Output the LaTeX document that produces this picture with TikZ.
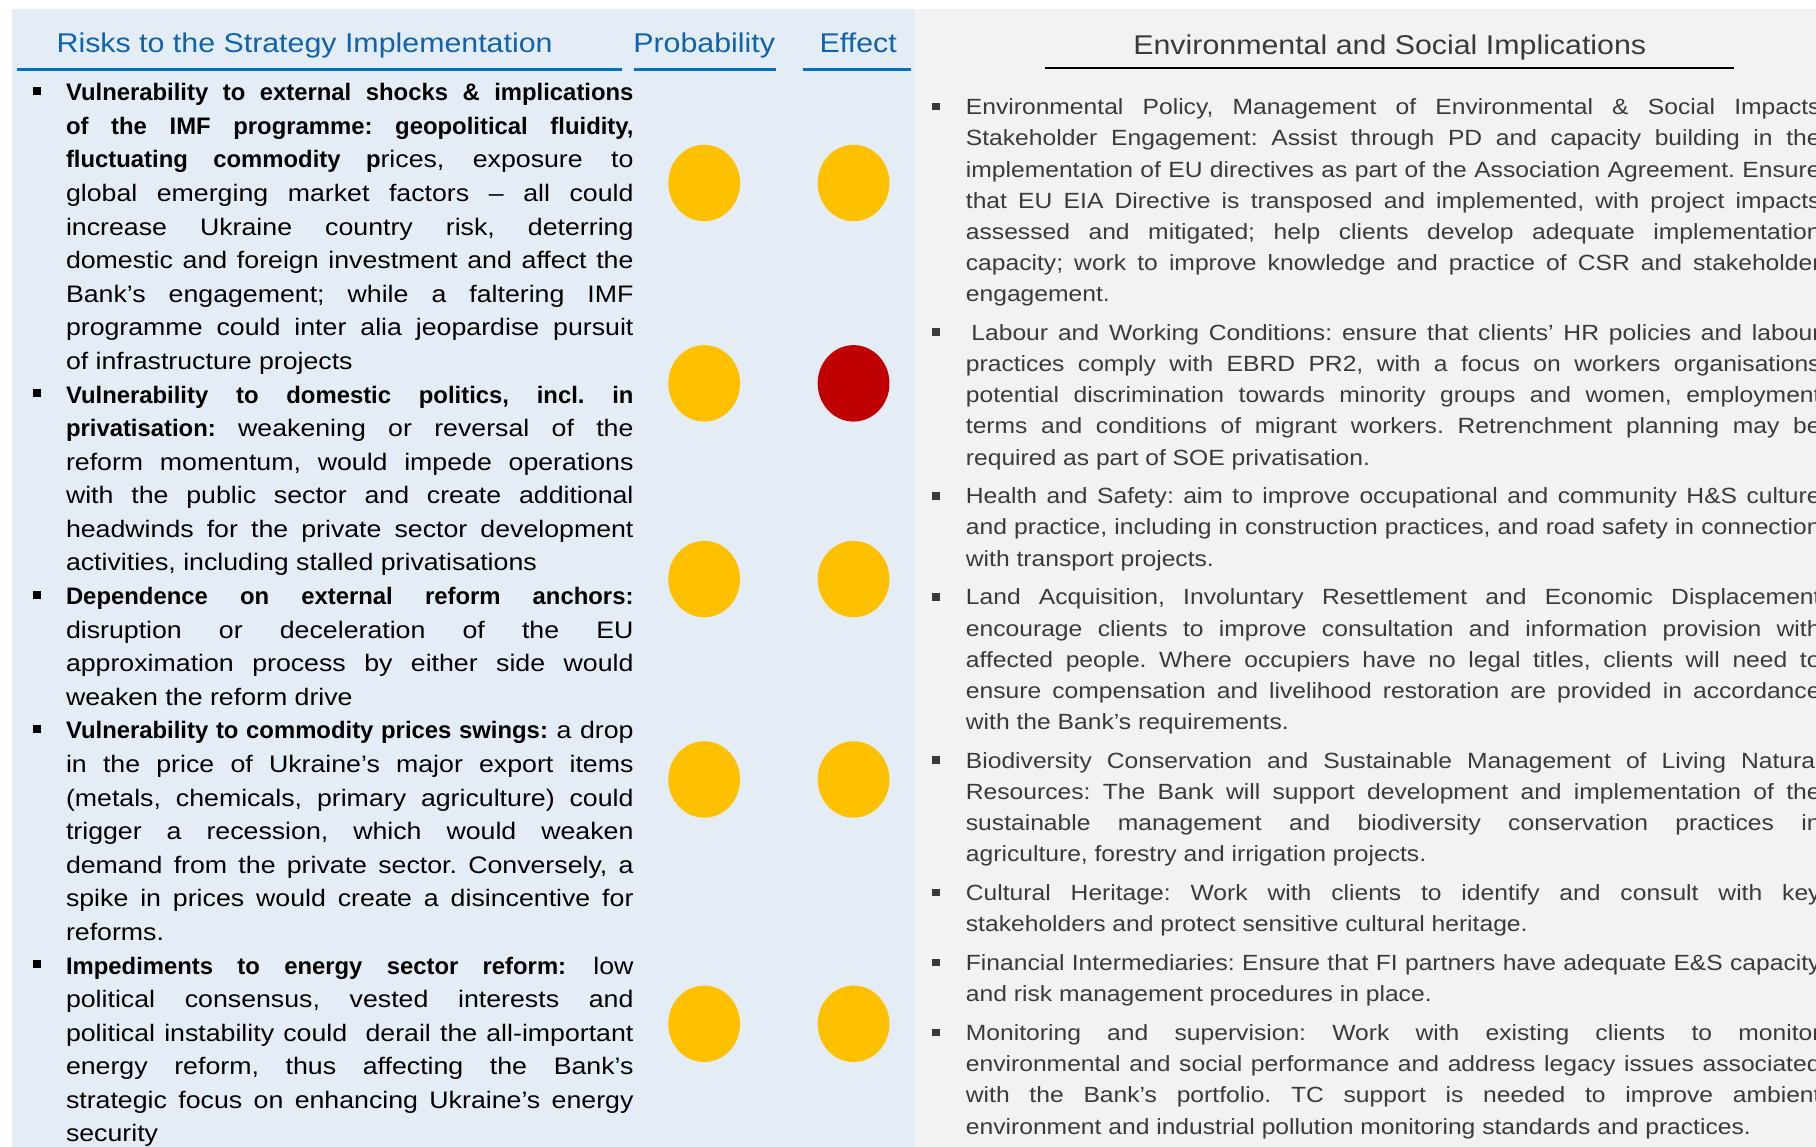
\documentclass[tikz,border=0pt]{standalone}
\usepackage{fontspec}
\setmainfont{Liberation Sans}[UprightFeatures={FakeStretch=1.12}]
\usetikzlibrary{positioning,calc,shapes.geometric}
\definecolor{leftbg}{HTML}{E4ECF6}
\definecolor{rightbg}{HTML}{F2F2F2}
\definecolor{hdrblue}{HTML}{0F62AE}
\definecolor{lineblue}{HTML}{0070C0}
\definecolor{darktext}{HTML}{3A3A3A}
\definecolor{amber}{HTML}{FFC000}
\definecolor{crimson}{HTML}{C00000}

\begin{document}
\begin{tikzpicture}[
  x=0.5pt,y=-0.5pt, % one unit is one pixel of the layout, y runs down
  hdr/.style={anchor=base,inner sep=0pt,font=\fontsize{11.7}{14}\selectfont,text=hdrblue}, % column titles
  esihdr/.style={hdr,text=darktext}, % title of the right panel
  riskitem/.style={anchor=north west,inner sep=0pt,outer sep=0pt,text width=245pt,align=justify,
    font=\fontsize{10.3}{14.5}\selectfont}, % risk paragraphs
  esiitem/.style={anchor=north west,inner sep=0pt,outer sep=0pt,text width=369pt,align=justify,
    text=darktext,font=\fontsize{9.5}{13.45}\selectfont}, % E&S paragraphs
  bul/.style={rectangle,fill=black,inner sep=0pt,minimum size=3.5pt}, % square bullets
  esibul/.style={bul,fill=darktext,minimum size=3.3pt},
  dot/.style={ellipse,fill=amber,inner sep=0pt,minimum width=31pt,minimum height=33pt}, % rating dots
  reddot/.style={dot,fill=crimson}
  ]
  \tolerance=10000 \hbadness=10000 \frenchspacing

  % panels
  \useasboundingbox (0,0) rectangle (1568,990);
  \fill[leftbg] (10,8) rectangle (790,990);
  \fill[rightbg] (790,8) rectangle (1568,990);

  % titles
  \node[hdr] (risks) at (263,45) {Risks to the Strategy Implementation};
  \node[hdr] (prob) at (608,45) {Probability};
  \node[hdr] (eff) at (741,45) {Effect};
  \node[esihdr] (esi) at (1200,47) {Environmental and Social Implications};
  \draw[lineblue,line width=1.3pt] (15,60) -- (537,60);
  \draw[lineblue,line width=1.3pt] (547,60) -- (670,60);
  \draw[lineblue,line width=1.3pt] (693,60) -- (787,60);
  \draw[black,line width=0.9pt] (902,59) -- (1497,59);

  % risks
  \node[riskitem] (r1) at (57,66.7) {\strut\textbf{Vulnerability to external shocks \& implications\linebreak of the IMF programme: geopolitical fluidity,\linebreak fluctuating commodity p}rices, exposure to\linebreak global emerging market factors – all could\linebreak increase Ukraine country risk, deterring\linebreak domestic and foreign investment and affect the\linebreak Bank’s engagement; while a faltering IMF\linebreak programme could inter alia jeopardise pursuit\linebreak of infrastructure projects\strut};
  \node[riskitem] (r2) [below=0pt of r1] {\strut\textbf{Vulnerability to domestic politics, incl. in\linebreak privatisation:} weakening or reversal of the\linebreak reform momentum, would impede operations\linebreak with the public sector and create additional\linebreak headwinds for the private sector development\linebreak activities, including stalled privatisations\strut};
  \node[riskitem] (r3) [below=0pt of r2] {\strut\textbf{Dependence on external reform anchors:}\linebreak disruption or deceleration of the EU\linebreak approximation process by either side would\linebreak weaken the reform drive\strut};
  \node[riskitem] (r4) [below=0pt of r3] {\strut\textbf{Vulnerability to commodity prices swings:} a drop\linebreak in the price of Ukraine’s major export items\linebreak (metals, chemicals, primary agriculture) could\linebreak trigger a recession, which would weaken\linebreak demand from the private sector. Conversely, a\linebreak spike in prices would create a disincentive for\linebreak reforms.\strut};
  \node[riskitem] (r5) [below=0pt of r4] {\strut\textbf{Impediments to energy sector reform:} low\linebreak political consensus, vested interests and\linebreak political instability could\ \ derail the all-important\linebreak energy reform, thus affecting the Bank’s\linebreak strategic focus on enhancing Ukraine’s energy\linebreak security\strut};
  \foreach \i in {1,...,5}
    \node[bul] (b\i) at ($(r\i.north west)+(-25,11.8)$) {};

  % ratings
  \node[dot] (p1) at (608,158) {};
  \node[dot] (e1) at (737,158) {};
  \node[dot] (p2) at (608,331) {};
  \node[reddot] (e2) at (737,331) {};
  \node[dot] (p3) at (608,500) {};
  \node[dot] (e3) at (737,500) {};
  \node[dot] (p4) at (608,673) {};
  \node[dot] (e4) at (737,673) {};
  \node[dot] (p5) at (608,884) {};
  \node[dot] (e5) at (737,884) {};

  % environmental and social implications
  \node[esiitem] (s1) at (834,80.2) {\strut Environmental Policy, Management of Environmental \& Social Impacts\linebreak Stakeholder Engagement: Assist through PD and capacity building in the\linebreak implementation of EU directives as part of the Association Agreement. Ensure\linebreak that EU EIA Directive is transposed and implemented, with project impacts\linebreak assessed and mitigated; help clients develop adequate implementation\linebreak capacity; work to improve knowledge and practice of CSR and stakeholder\linebreak engagement.\strut};
  \node[esiitem] (s2) [below=3.3pt of s1] {\strut\hspace{0.25em}Labour and Working Conditions: ensure that clients’ HR policies and labour\linebreak practices comply with EBRD PR2, with a focus on workers organisations\linebreak potential discrimination towards minority groups and women, employment\linebreak terms and conditions of migrant workers. Retrenchment planning may be\linebreak required as part of SOE privatisation.\strut};
  \node[esiitem] (s3) [below=3.3pt of s2] {\strut Health and Safety: aim to improve occupational and community H\&S culture\linebreak and practice, including in construction practices, and road safety in connection\linebreak with transport projects.\strut};
  \node[esiitem] (s4) [below=3.3pt of s3] {\strut Land Acquisition, Involuntary Resettlement and Economic Displacement\linebreak encourage clients to improve consultation and information provision with\linebreak affected people. Where occupiers have no legal titles, clients will need to\linebreak ensure compensation and livelihood restoration are provided in accordance\linebreak with the Bank’s requirements.\strut};
  \node[esiitem] (s5) [below=3.3pt of s4] {\strut Biodiversity Conservation and Sustainable Management of Living Natural\linebreak Resources: The Bank will support development and implementation of the\linebreak sustainable management and biodiversity conservation practices in\linebreak agriculture, forestry and irrigation projects.\strut};
  \node[esiitem] (s6) [below=3.3pt of s5] {\strut Cultural Heritage: Work with clients to identify and consult with key\linebreak stakeholders and protect sensitive cultural heritage.\strut};
  \node[esiitem] (s7) [below=3.3pt of s6] {\strut Financial Intermediaries: Ensure that FI partners have adequate E\&S capacity\linebreak and risk management procedures in place.\strut};
  \node[esiitem] (s8) [below=3.3pt of s7] {\strut Monitoring and supervision: Work with existing clients to monitor\linebreak environmental and social performance and address legacy issues associated\linebreak with the Bank’s portfolio. TC support is needed to improve ambient\linebreak environment and industrial pollution monitoring standards and practices.\strut};
  \foreach \i in {1,...,8}
    \node[esibul] (c\i) at ($(s\i.north west)+(-26,11.8)$) {};
\end{tikzpicture}
\end{document}
